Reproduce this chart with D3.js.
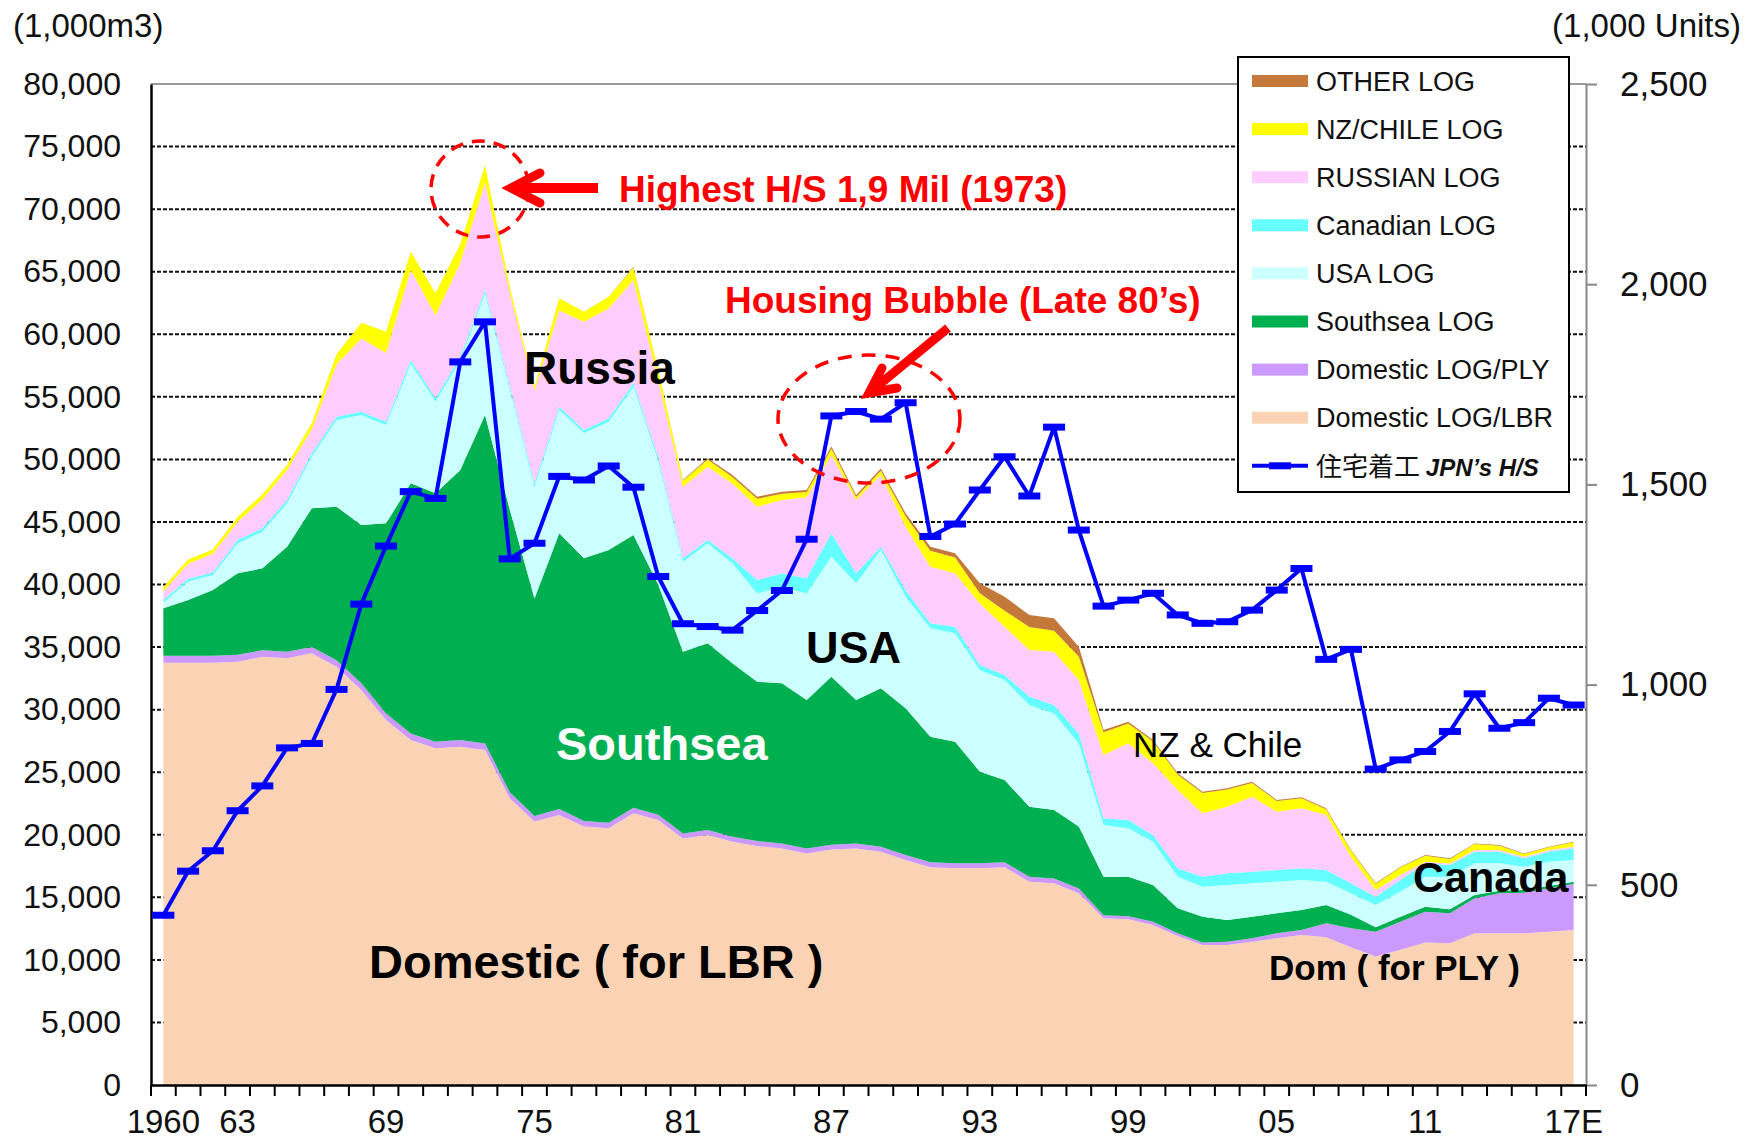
<!DOCTYPE html>
<html><head><meta charset="utf-8">
<script src="https://cdn.jsdelivr.net/npm/d3@7"></script>
<style>
html,body{margin:0;padding:0;background:#fff;}
svg{display:block;font-family:"Liberation Sans",Arial,sans-serif;}
</style></head>
<body><svg id="chart" width="1755" height="1140"></svg>
<script>
const years = d3.range(1960, 2018);
const domesticLBR = [33750,33750,33750,33830,34230,34100,34500,33430,31570,29170, 27570,26910,27040,26770,22910,21050,21580,20650,20510,21710, 21180,19710,19980,19450,19100,18910,18510,18830,18910,18650, 17980,17400,17320,17320,17400,16250,16120,15320,13320,13240, 12790,11900,11190,11190,11450,11720,11990,11800,11000,10260, 10800,11380,11320,12120,12120,12120,12250,12390];
const domesticPLY = [550,550,550,550,520,520,500,520,530,530, 530,530,530,530,490,450,470,450,440,440, 420,390,400,400,400,390,390,370,390,400, 400,400,400,400,400,400,380,380,250,250, 260,220,200,260,270,400,400,1120,1520,1990, 2250,2470,2400,2800,3200,3250,3470,3670];
const southseaLog = [3800,4460,5260,6510,6540,8400,11090,12270,12650,15190, 19990,19850,21580,26250,22600,17390,22040,20990,21810,21810, 18400,14530,14920,13850,12730,12800,11870,13430,11470,12650, 11720,10040,9720,7320,6580,5590,5480,4950,3080,3160, 2930,2000,2060,1740,1730,1600,1600,1470,1080,350, 400,400,330,260,210,210,180,190];
const usaLog = [450,1470,1200,2400,2930,3470,4130,6930,8800,7860, 9560,7310,8750,9700,9600,8910,9860,10010,10240,11840, 9900,7190,7990,7990,7060,7730,8520,9590,9320,11060, 8930,8660,8660,8130,7990,8130,7720,6650,4130,3860, 3470,2530,2400,2790,2670,2530,2390,1860,1720,1790, 2000,2400,2600,2540,2190,1870,1950,1730];
const canadianLog = [210,220,190,270,270,260,260,250,250,250, 290,280,300,290,300,300,260,250,280,280, 300,270,270,400,1070,1060,1200,1870,800,260, 530,400,530,400,400,670,670,800,530,670, 530,670,800,940,930,930,940,930,800,660, 930,1070,930,930,930,670,800,940];
const russianLog = [690,1200,1500,1440,2310,2400,1920,4200,5870,5500, 7190,6660,7500,8560,7400,7400,7690,8650,8790,8250, 6140,5730,5860,5990,5860,5860,6480,6260,5860,5730, 5060,4520,4260,4920,3860,3720,4260,4260,5060,6130, 5730,6260,5060,5320,5990,4660,4790,4400,2130,530, 400,130,120,130,130,130,130,130];
const nzChileLog = [350,350,350,400,400,400,500,800,1250,1700, 1470,1730,1500,1400,500,300,970,800,930,1000, 800,480,580,520,630,500,430,500,250,350, 830,1280,1260,810,1270,1840,1670,1890,1830,1590, 1740,1220,1620,1370,1100,860,800,450,490,490, 620,480,370,480,350,210,220,350];
const otherLog = [0,0,0,0,0,0,0,0,0,0, 0,0,0,0,0,0,0,0,0,70, 0,50,80,150,170,170,150,170,150,180, 240,320,340,790,1130,960,1000,780,170,140, 120,110,110,100,100,80,80,80,60,50, 50,50,50,50,50,50,50,50];
const housingStarts = [424,534,585,685,747,842,853,988,1201,1346, 1482,1465,1806,1906,1314,1353,1520,1511,1546,1493, 1270,1152,1145,1136,1185,1235,1363,1671,1682,1663, 1704,1370,1401,1486,1569,1471,1643,1386,1196,1211, 1228,1174,1153,1157,1186,1236,1290,1063,1088,789, 812,833,883,977,891,905,966,949];

const leftTicks = d3.range(0, 80001, 5000);
const rightTicks = [0,500,1000,1500,2000,2500];
const xLabelYears = [1960,1963,1969,1975,1981,1987,1993,1999,2005,2011,2017];
const xLabelText = ["1960","63","69","75","81","87","93","99","05","11","17E"];

const seriesKeys = ["lbr","ply","ss","usa","can","rus","nz","oth"];
const seriesNames = {oth:"OTHER LOG", nz:"NZ/CHILE LOG", rus:"RUSSIAN LOG", can:"Canadian LOG", usa:"USA LOG", ss:"Southsea LOG", ply:"Domestic LOG/PLY", lbr:"Domestic LOG/LBR"};
const seriesColors = {lbr:"#FAD3B4", ply:"#CC99FF", ss:"#00B050", usa:"#CCFFFF", can:"#66FFFF", rus:"#FFCCFF", nz:"#FFFF00", oth:"#C4793A"};
const seriesData = {lbr:domesticLBR, ply:domesticPLY, ss:southseaLog, usa:usaLog, can:canadianLog, rus:russianLog, nz:nzChileLog, oth:otherLog};

const table = years.map((yr,i)=>{const o={year:yr}; seriesKeys.forEach(k=>o[k]=seriesData[k][i]); return o;});
const stacked = d3.stack().keys(seriesKeys)(table);

const svg = d3.select("#chart");
const L = 151, R = 1586, T = 84, B = 1085;
const x = d3.scaleBand().domain(years).range([L, R]).padding(0);
const cx = yr => x(yr) + x.bandwidth()/2;
const yL = d3.scaleLinear().domain([0,80000]).range([B,T]);
const yR = d3.scaleLinear().domain([0,2500]).range([B,T]);

// gridlines
svg.append("g").selectAll("line").data(leftTicks.filter(v=>v>0 && v<80000)).join("line")
  .attr("x1",L).attr("x2",R).attr("y1",d=>yL(d)).attr("y2",d=>yL(d))
  .attr("stroke","#111").attr("stroke-width",2).attr("stroke-dasharray","4,2");
svg.append("line").attr("x1",L).attr("x2",R).attr("y1",yL(80000)).attr("y2",yL(80000))
  .attr("stroke","#999").attr("stroke-width",2);

// areas
const area = d3.area().x(d=>cx(d.data.year)).y0(d=>yL(d[0])).y1(d=>yL(d[1]));
svg.append("g").selectAll("path").data(stacked).join("path")
  .attr("d",area).attr("fill",d=>seriesColors[d.key]);

// left axis
const gL = svg.append("g").attr("transform",`translate(${L},0)`)
  .call(d3.axisLeft(yL).tickValues(leftTicks).tickFormat(d3.format(",")).tickSize(0).tickPadding(30));
gL.select(".domain").attr("stroke","#000").attr("stroke-width",2.5);
gL.selectAll("text").attr("font-size",32).attr("fill","#111").attr("font-family","Liberation Sans, Arial, sans-serif");

// right axis
const gR = svg.append("g").attr("transform",`translate(${R},0)`)
  .call(d3.axisRight(yR).tickValues(rightTicks).tickFormat(d3.format(",")).tickSize(11).tickSizeOuter(0).tickPadding(23));
gR.select(".domain").attr("stroke","#888").attr("stroke-width",2);
gR.selectAll(".tick line").attr("stroke","#888").attr("stroke-width",2);
gR.selectAll("text").attr("font-size",35).attr("fill","#111").attr("font-family","Liberation Sans, Arial, sans-serif");

// bottom axis
const gB = svg.append("g").attr("transform",`translate(0,${B})`)
  .call(d3.axisBottom(x).tickValues(xLabelYears).tickFormat((d,i)=>xLabelText[i]).tickSize(0).tickPadding(25));
gB.select(".domain").attr("stroke","#000").attr("stroke-width",2.5);
gB.selectAll("text").attr("font-size",33).attr("fill","#111").attr("font-family","Liberation Sans, Arial, sans-serif");
const bounds = years.map(yr=>x(yr)).concat([R]);
svg.append("g").selectAll("line").data(bounds).join("line")
  .attr("x1",d=>d).attr("x2",d=>d).attr("y1",B).attr("y2",B+11)
  .attr("stroke","#000").attr("stroke-width",2);

// units
svg.append("text").attr("x",13).attr("y",37).attr("font-size",33).attr("fill","#111").text("(1,000m3)");
svg.append("text").attr("x",1741).attr("y",37).attr("font-size",33).attr("fill","#111").attr("text-anchor","end").text("(1,000 Units)");

// housing starts line
const hsLine = d3.line().x((d,i)=>cx(years[i])).y(d=>yR(d));
svg.append("path").attr("d",hsLine(housingStarts)).attr("fill","none").attr("stroke","#0000FF").attr("stroke-width",4).attr("stroke-linejoin","round");
svg.append("g").selectAll("rect").data(housingStarts).join("rect")
  .attr("x",(d,i)=>cx(years[i])-11).attr("y",d=>yR(d)-3.5).attr("width",22).attr("height",7).attr("fill","#0000FF");

// in-chart labels
function label(t, xx, yy, size, weight, fill, anchor){
  return svg.append("text").attr("x",xx).attr("y",yy).attr("font-size",size).attr("font-weight",weight||"bold").attr("fill",fill||"#000").attr("text-anchor",anchor||"start").text(t);
}
label("Russia",524,384,46);
label("USA",806,663,45);
label("Southsea",556,760,47,"bold","#fff");
label("Domestic ( for LBR )",369,978,47);
label("NZ & Chile",1133,757,35,"normal");
label("Canada",1413,892,43);
label("Dom ( for PLY )",1269,980,35);

// annotations
const red = "#FF0000";
label("Highest H/S 1,9 Mil (1973)",619,202,37,"bold",red);
label("Housing Bubble (Late 80\u2019s)",725,313,37,"bold",red);
svg.append("ellipse").attr("cx",480).attr("cy",189).attr("rx",49).attr("ry",48)
  .attr("fill","none").attr("stroke",red).attr("stroke-width",3.5).attr("stroke-dasharray","13,9");
svg.append("ellipse").attr("cx",869).attr("cy",419).attr("rx",91).attr("ry",64)
  .attr("fill","none").attr("stroke",red).attr("stroke-width",3.5).attr("stroke-dasharray","14,10");
// arrow 1
svg.append("line").attr("x1",598).attr("y1",188).attr("x2",514).attr("y2",188).attr("stroke",red).attr("stroke-width",10);
svg.append("path").attr("d","M540,173 L511,188 L540,203").attr("fill","none").attr("stroke",red).attr("stroke-width",9).attr("stroke-linecap","round").attr("stroke-linejoin","miter");
// arrow 2
svg.append("line").attr("x1",948).attr("y1",328).attr("x2",875).attr("y2",388).attr("stroke",red).attr("stroke-width",9);
svg.append("path").attr("d","M882,368 L869,393 L897,388").attr("fill","none").attr("stroke",red).attr("stroke-width",9).attr("stroke-linecap","round");

// legend
const lg = svg.append("g");
lg.append("rect").attr("x",1238).attr("y",57).attr("width",331).attr("height",435).attr("fill","#fff").attr("stroke","#000").attr("stroke-width",2);
const legendKeys = ["oth","nz","rus","can","usa","ss","ply","lbr"];
legendKeys.forEach((k,i)=>{
  const cy = 81 + i*48.1;
  lg.append("rect").attr("x",1252).attr("y",cy-6).attr("width",56).attr("height",12).attr("fill",seriesColors[k]);
  lg.append("text").attr("x",1316).attr("y",cy+9.5).attr("font-size",27).attr("fill","#111").text(seriesNames[k]);
});
const hy = 81 + 8*48.1;
lg.append("line").attr("x1",1252).attr("x2",1308).attr("y1",hy).attr("y2",hy).attr("stroke","#0000FF").attr("stroke-width",4);
lg.append("rect").attr("x",1269).attr("y",hy-3.5).attr("width",22).attr("height",7).attr("fill","#0000FF");
const ht = lg.append("text").attr("x",1316).attr("y",hy+10).attr("fill","#111");
ht.append("tspan").attr("font-size",26).attr("font-family","Noto Sans CJK JP, sans-serif").text("住宅着工 ");
ht.append("tspan").attr("font-size",24).attr("font-weight","bold").attr("font-style","italic").text("JPN\u2019s H/S");
</script>
</body></html>
